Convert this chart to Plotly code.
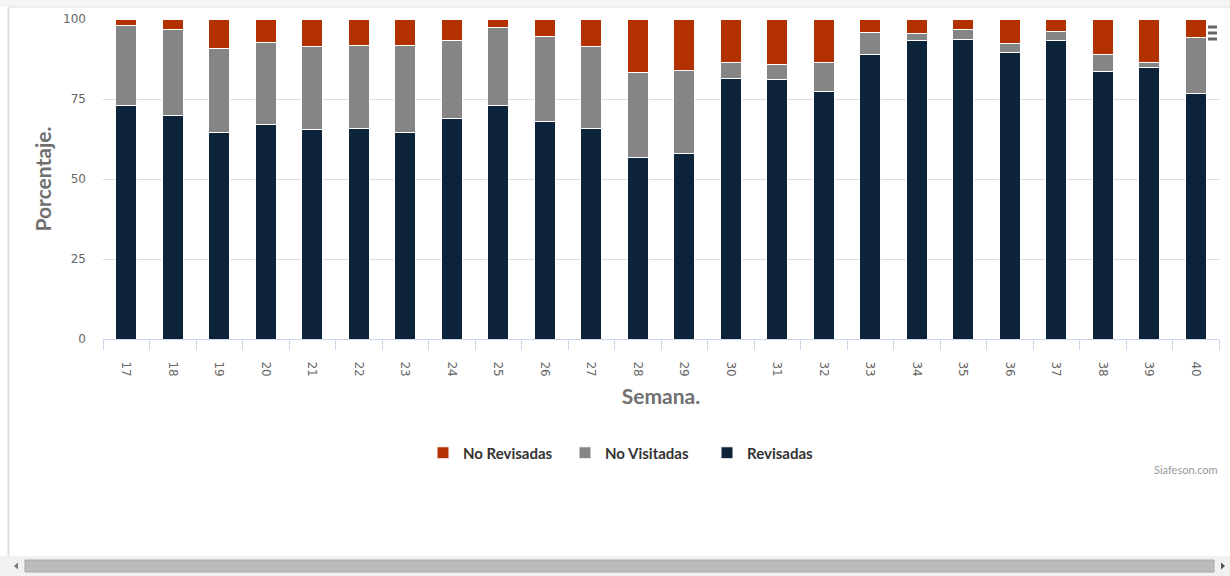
import plotly.graph_objects as go

semanas = [str(s) for s in range(17, 41)]
revisadas = [73.0, 69.7, 64.4, 67.1, 65.5, 65.9, 64.4, 68.9, 73.0, 68.1, 65.9, 56.7,
             57.9, 81.5, 81.1, 77.4, 88.8, 93.4, 93.6, 89.6, 93.3, 83.7, 84.7, 76.7]
no_visitadas = [25.1, 26.9, 26.3, 25.5, 25.8, 25.9, 27.4, 24.5, 24.4, 26.3, 25.5, 26.7,
                25.9, 4.8, 4.8, 8.9, 7.1, 2.2, 3.2, 2.9, 2.7, 5.1, 1.8, 17.4]
no_revisadas = [1.9, 3.4, 9.3, 7.4, 8.7, 8.2, 8.2, 6.6, 2.6, 5.6, 8.6, 16.6,
                16.2, 13.7, 14.1, 13.7, 4.1, 4.4, 3.2, 7.5, 4.0, 11.2, 13.5, 5.9]

W, H = 1230, 576
L, R, T, B = 103, 1219, 19, 339  # plot area in px


def px(x):
    return (x - L) / (R - L)


def py(y):
    return (B - y) / (B - T)


font_title = "Lato, 'Open Sans', sans-serif"
font_tick = "'DejaVu Sans', sans-serif"

fig = go.Figure()
for name, vals, col in [("Revisadas", revisadas, "#0d233a"),
                        ("No Visitadas", no_visitadas, "#858585"),
                        ("No Revisadas", no_revisadas, "#b33100")]:
    fig.add_trace(go.Bar(x=semanas, y=vals, name=name,
                         marker=dict(color=col, line=dict(color="#ffffff", width=1)),
                         hoverinfo="x+y+name"))

fig.update_layout(
    width=W, height=H,
    margin=dict(l=L, r=W - R, t=T, b=H - B, pad=0),
    barmode="stack", bargap=0.54,
    paper_bgcolor="white", plot_bgcolor="white",
    showlegend=True,
    legend=dict(orientation="h", traceorder="reversed", x=px(423), xanchor="left",
                y=py(453), yanchor="middle",
                font=dict(family=font_title, size=15, color="#333333", weight="bold"),
                entrywidth=97, itemclick=False),
    xaxis=dict(type="category", tickson="boundaries", ticks="outside", ticklen=10,
               tickcolor="#ccd6eb", showline=True, linecolor="#ccd6eb", linewidth=1,
               tickangle=90, ticklabelstandoff=19,
               tickfont=dict(family=font_tick, size=12, color="#666666"),
               title=dict(text="<b>Semana.</b>", standoff=13,
                          font=dict(family=font_title, size=21, color="#707070")),
               showgrid=False),
    yaxis=dict(range=[0, 100], tickvals=[0, 25, 50, 75, 100], showgrid=True,
               gridcolor="#dcdcdc", gridwidth=1, zeroline=False, ticks="",
               ticklabelstandoff=16,
               tickfont=dict(family=font_tick, size=12, color="#666666"),
               title=dict(text="<b>Porcentaje.</b>", standoff=5,
                          font=dict(family=font_title, size=21, color="#707070"))),
)

# credits
fig.add_annotation(text="Siafeson.com", x=px(1220), y=py(469), xref="paper", yref="paper",
                   xanchor="right", yanchor="middle", showarrow=False,
                   font=dict(family=font_title, size=11, color="#999999"))

shapes = []
# page frame: top band, left border line
shapes.append(dict(type="rect", xref="paper", yref="paper", x0=px(0), x1=px(W), y0=py(0), y1=py(7),
                   fillcolor="#f5f5f5", line=dict(width=0), layer="below"))
shapes.append(dict(type="line", xref="paper", yref="paper", x0=px(8), x1=px(W), y0=py(7), y1=py(7),
                   line=dict(color="#e0e0e0", width=1)))
shapes.append(dict(type="line", xref="paper", yref="paper", x0=px(8.5), x1=px(8.5), y0=py(7), y1=py(556),
                   line=dict(color="#e0e0e0", width=2)))
# scrollbar
shapes.append(dict(type="rect", xref="paper", yref="paper", x0=px(0), x1=px(W), y0=py(556), y1=py(576),
                   fillcolor="#f1f1f1", line=dict(width=0)))
shapes.append(dict(type="rect", xref="paper", yref="paper", x0=px(25), x1=px(1214), y0=py(560), y1=py(572),
                   fillcolor="#bbbbbb", line=dict(color="#aaaaaa", width=1)))
shapes.append(dict(type="path", xref="paper", yref="paper",
                   path=f"M {px(14)},{py(566)} L {px(18)},{py(562.5)} L {px(18)},{py(569.5)} Z",
                   fillcolor="#777777", line=dict(width=0)))
shapes.append(dict(type="path", xref="paper", yref="paper",
                   path=f"M {px(1225)},{py(566)} L {px(1221)},{py(562.5)} L {px(1221)},{py(569.5)} Z",
                   fillcolor="#555555", line=dict(width=0)))
# context menu icon
for yy in (27, 33, 39):
    shapes.append(dict(type="rect", xref="paper", yref="paper", x0=px(1208), x1=px(1217),
                       y0=py(yy - 1.5), y1=py(yy + 1.5), fillcolor="#666666", line=dict(width=0)))
fig.update_layout(shapes=shapes)

fig.write_html("out.html", config={"displayModeBar": False},
               post_script="document.body.style.margin='0';document.body.style.overflow='hidden';")
